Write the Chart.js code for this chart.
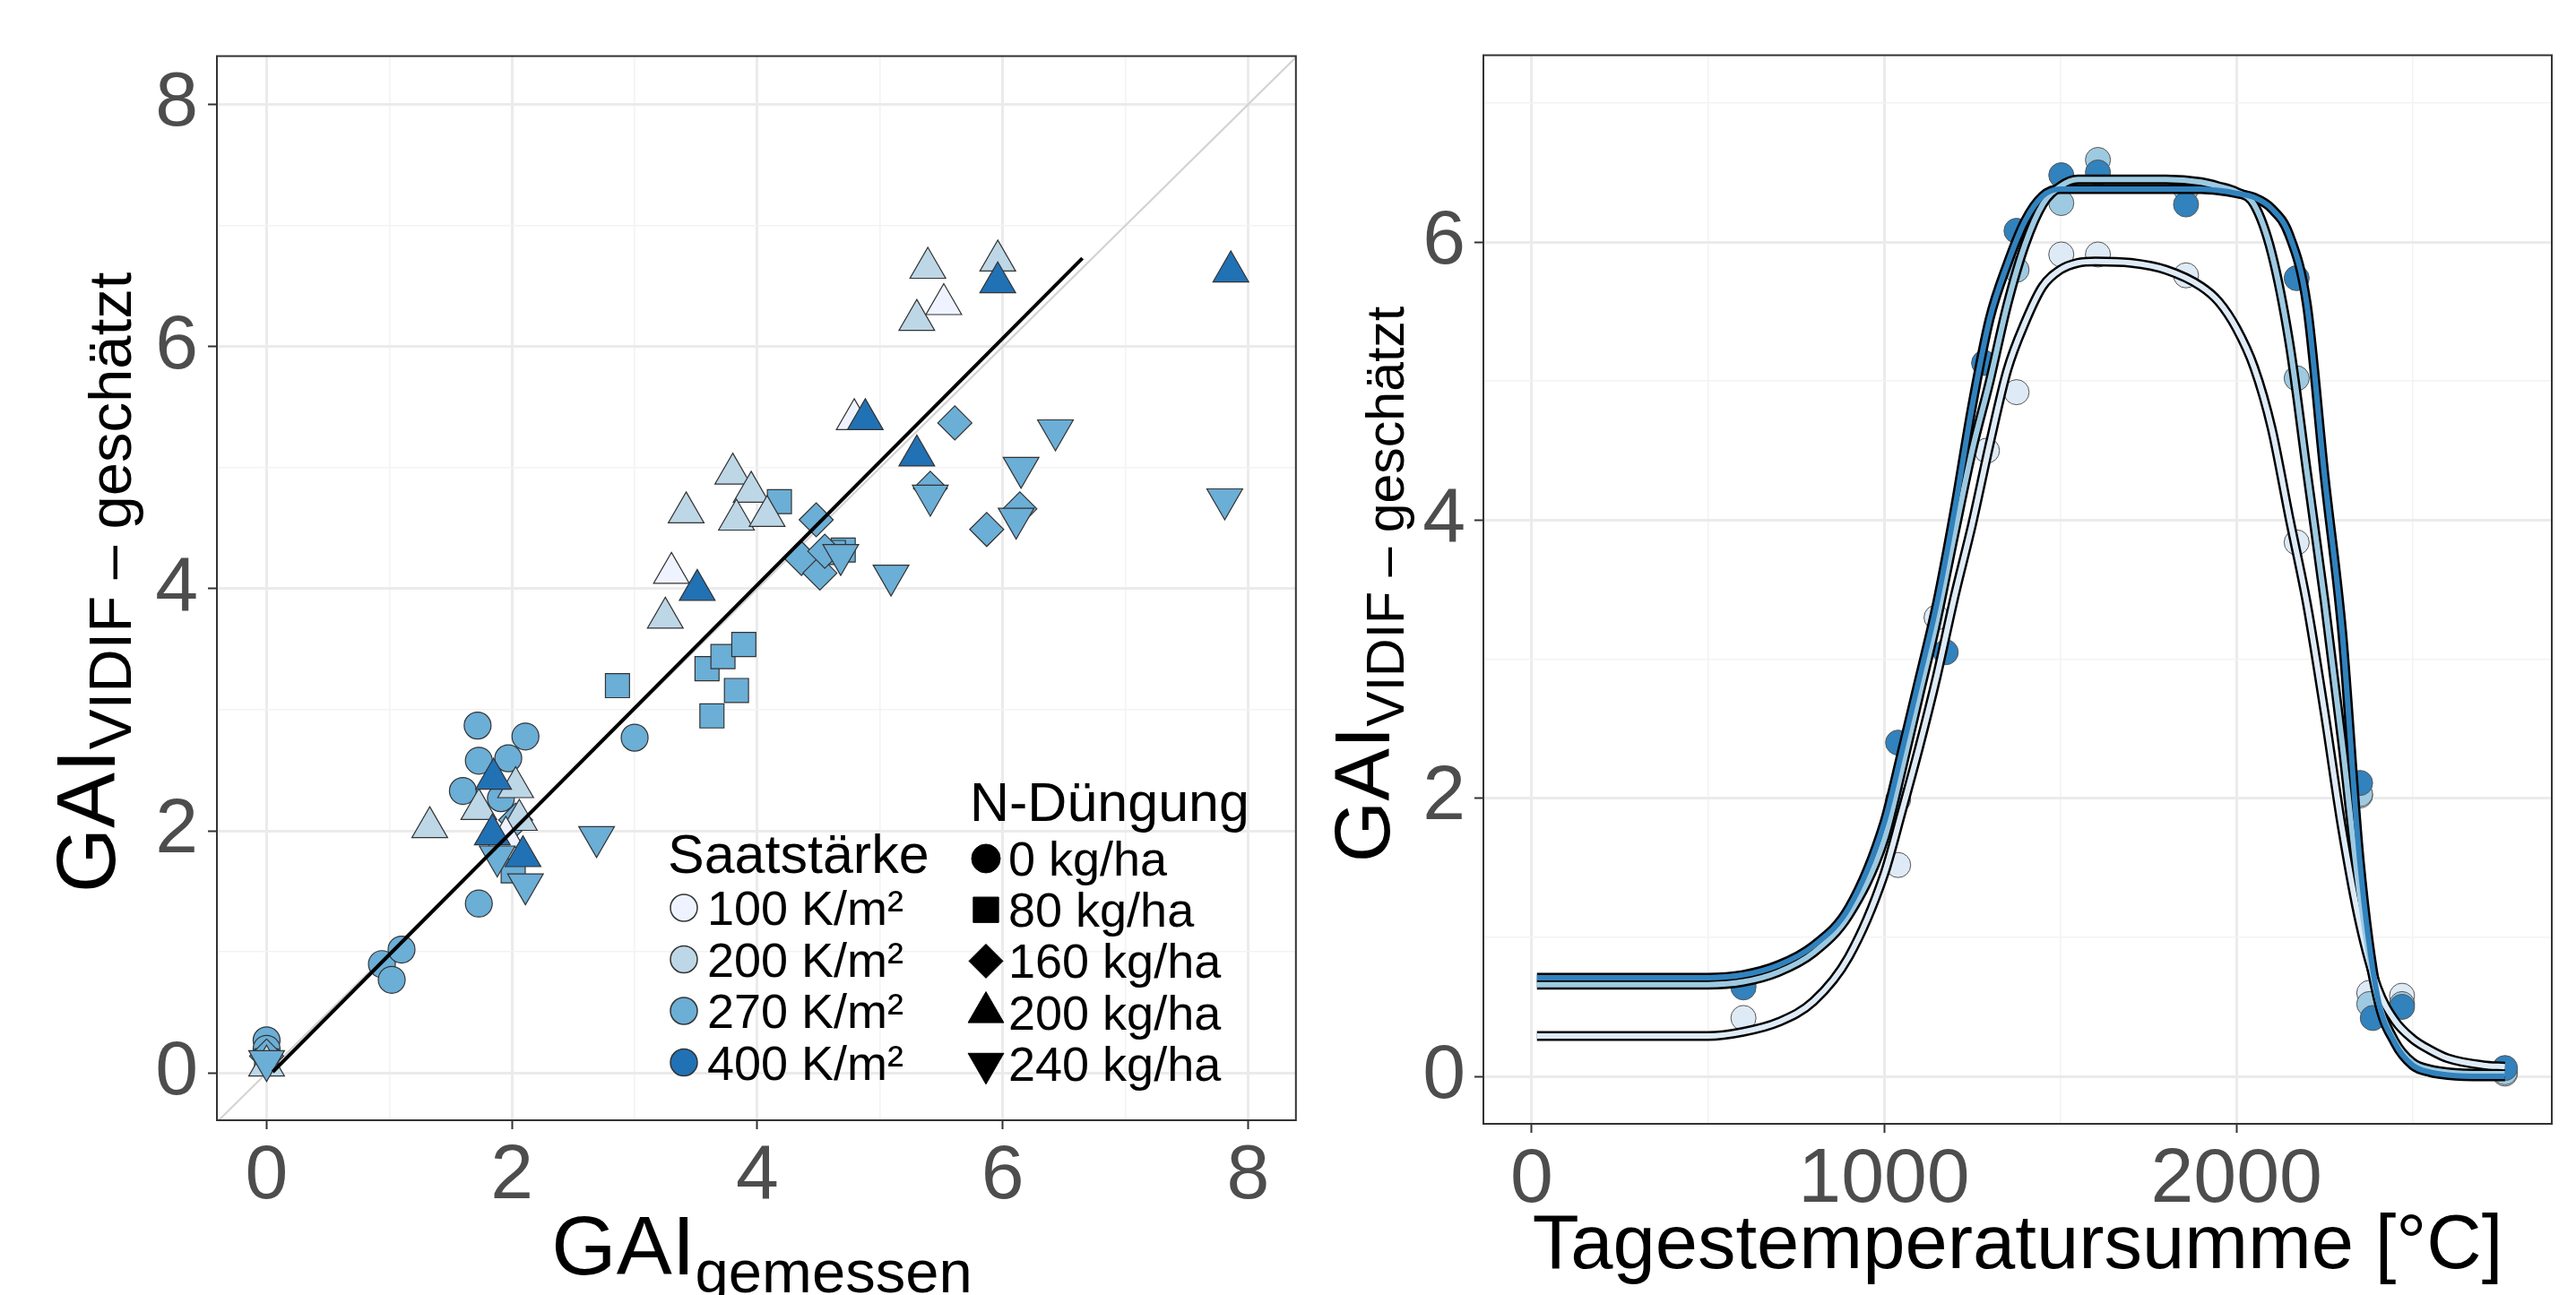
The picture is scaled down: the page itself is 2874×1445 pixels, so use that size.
<!DOCTYPE html>
<html>
<head>
<meta charset="utf-8">
<script src="https://cdn.jsdelivr.net/npm/chart.js@4.4.1/dist/chart.umd.min.js"></script>
<style>
  html, body { margin: 0; padding: 0; background: #fff; }
  #page { position: relative; width: 2874px; height: 1445px; overflow: hidden; background: #fff; }
  canvas { position: absolute; top: 0; }
  #left { left: 0; }
  #right { left: 1470px; }
  #labels { position: absolute; left: 0; top: 0; pointer-events: none; font-family: 'Liberation Sans', Arial, sans-serif; }
</style>
</head>
<body>
<div id="page">
  <canvas id="left" width="1470" height="1445"></canvas>
  <canvas id="right" width="1404" height="1445"></canvas>
  <svg id="labels" width="2874" height="1445">
    <text x="850" y="1422" text-anchor="middle" font-size="93">GAI<tspan font-size="67" dy="20">gemessen</tspan></text>
    <text transform="translate(128,650) rotate(-90)" text-anchor="middle" font-size="93">GAI<tspan font-size="67" dy="18">VIDIF – geschätzt</tspan></text>
    <text transform="translate(1550,652) rotate(-90)" text-anchor="middle" font-size="88">GAI<tspan font-size="59" dy="16">VIDIF – geschätzt</tspan></text>
    <text x="2251" y="1415" text-anchor="middle" font-size="85">Tagestemperatursumme [°C]</text>
  </svg>
</div>
<script>
// left panel: GAI measured vs. estimated, by Saatstärke (colour) and N-Düngung (shape)
const circ270 = [[1.72,2.87],[1.73,2.58],[1.97,2.60],[2.11,2.78],[1.60,2.33],[1.91,2.27],[1.73,1.40],[3.00,2.77],[0.94,0.90],[1.10,1.02],[1.02,0.77],[0,0.27],[0,0.20]]
const sq270 = [[2.86,3.20],[3.59,3.34],[3.72,3.44],[3.89,3.54],[3.83,3.16],[3.63,2.95],[4.18,4.72],[4.70,4.32],[4.62,4.30],[2.01,1.67],[0,0.10]]
const dia270 = [[5.61,5.37],[5.41,4.83],[5.87,4.49],[6.14,4.66],[4.48,4.57],[4.36,4.25],[4.51,4.13],[4.55,4.31],[2.03,2.09],[0,0.14]]
const tri100 = [[5.52,6.35],[3.30,4.13],[4.79,5.40],[1.95,1.95]]
const tri200 = [[5.39,6.65],[5.96,6.71],[5.30,6.22],[3.80,4.95],[3.95,4.80],[3.42,4.63],[3.83,4.57],[4.08,4.60],[3.25,3.76],[1.33,2.03],[1.73,2.18],[2.03,2.36],[2.06,2.09],[0,0.06]]
const tri400 = [[5.96,6.53],[7.86,6.62],[4.88,5.40],[5.30,5.10],[3.51,3.99],[1.85,2.43],[1.84,1.97],[2.09,1.79]]
const down270 = [[6.43,5.31],[6.15,5.00],[7.81,4.74],[5.09,4.11],[5.41,4.77],[6.11,4.58],[2.69,1.95],[2.11,1.56],[1.88,1.79],[4.68,4.28],[0,0.10]]
const fitX = [0.05, 6.65]
const fitY = [0.01, 6.73]
const diagXY = [-0.5, 8.5]
const leftTicks = [0, 1, 2, 3, 4, 5, 6, 7, 8]

const saatLabels = ['100 K/m²', '200 K/m²', '270 K/m²', '400 K/m²']
const saatColors = ['#eff3ff', '#bdd7e7', '#6baed6', '#2171b5']
const nLabels = ['0 kg/ha', '80 kg/ha', '160 kg/ha', '200 kg/ha', '240 kg/ha']

// right panel: GAI over Tagestemperatursumme, three fitted curves
const ptLight = [[601,0.42],[1040,1.52],[1149,3.30],[1292,4.50],[1376,4.92],[1503,5.91],[1607,5.91],[1857,5.76],[2171,3.84],[2351,2.02],[2377,0.60],[2470,0.58],[2762,0.02]]
const ptMid = [[601,0.66],[1040,1.99],[1376,5.80],[1503,6.28],[1607,6.59],[1857,6.38],[2171,5.02],[2351,2.03],[2377,0.52],[2470,0.52],[2762,0.03]]
const ptDark = [[601,0.64],[1040,2.40],[1175,3.05],[1284,5.13],[1376,6.08],[1503,6.48],[1607,6.50],[1857,6.27],[2171,5.74],[2351,2.11],[2387,0.42],[2470,0.50],[2762,0.06]]

const tsumX = [15, 300, 500, 600, 700, 800, 900, 1000, 1050, 1100, 1150, 1200, 1250, 1300, 1350, 1400, 1450, 1500, 1550, 1600, 1700, 1800, 1900, 1950, 2000, 2050, 2100, 2150, 2200, 2250, 2300, 2350, 2400, 2450, 2500, 2550, 2600, 2700, 2762]
const curveLight = [0.29, 0.29, 0.29, 0.32, 0.39, 0.54, 0.86, 1.45, 1.90, 2.37, 2.88, 3.45, 3.97, 4.55, 5.08, 5.42, 5.68, 5.80, 5.85, 5.86, 5.85, 5.80, 5.68, 5.57, 5.38, 5.10, 4.66, 4.02, 3.40, 2.62, 1.78, 1.10, 0.64, 0.40, 0.27, 0.19, 0.13, 0.08, 0.07]
const curveMid = [0.66, 0.66, 0.66, 0.68, 0.75, 0.89, 1.16, 1.70, 2.20, 2.74, 3.28, 3.90, 4.50, 5.00, 5.55, 5.98, 6.27, 6.40, 6.45, 6.45, 6.45, 6.45, 6.43, 6.40, 6.36, 6.27, 5.92, 5.28, 4.35, 3.42, 2.40, 1.30, 0.57, 0.25, 0.10, 0.05, 0.03, 0.02, 0.02]
const curveDark = [0.71, 0.71, 0.71, 0.73, 0.80, 0.94, 1.21, 1.82, 2.33, 2.86, 3.40, 4.07, 4.82, 5.45, 5.84, 6.15, 6.33, 6.38, 6.38, 6.38, 6.38, 6.38, 6.38, 6.37, 6.35, 6.32, 6.24, 6.05, 5.55, 4.32, 3.20, 1.55, 0.58, 0.24, 0.08, 0.03, 0.01, 0.0, 0.0]
const rightColors = ['#deebf7', '#9ecae1', '#3182bd']
const rightXTicks = [0, 500, 1000, 1500, 2000, 2500]
const rightYTicks = [0, 1, 2, 3, 4, 5, 6, 7]

const FONT = "'Liberation Sans', Arial, sans-serif"
const xy = arr => arr.map(([x, y]) => ({x, y}))
const zip = (xs, ys) => xs.map((x, i) => ({x, y: ys[i]}))

const panelBorder = {
    id: 'panelBorder',
    afterDraw(chart){
        const {ctx, chartArea: a} = chart
        ctx.save()
        ctx.strokeStyle = '#333333'
        ctx.lineWidth = 2
        ctx.strokeRect(a.left, a.top, a.right - a.left, a.bottom - a.top)
        ctx.restore()
    }
}

function drawKey(ctx, style, rotation, radius, x, y, fill, stroke, bw){
    ctx.save()
    ctx.fillStyle = fill
    ctx.strokeStyle = stroke
    ctx.lineWidth = bw
    Chart.helpers.drawPoint(ctx, {pointStyle: style, rotation: rotation, radius: radius, borderWidth: bw}, x, y)
    ctx.restore()
}

const nKeys = [
    {style: 'circle', rot: 0, r: 16},
    {style: 'rect', rot: 0, r: 20},
    {style: 'rectRot', rot: 0, r: 19},
    {style: 'triangle', rot: 0, r: 23},
    {style: 'triangle', rot: 180, r: 23}
]

const legendKeys = {
    id: 'legendKeys',
    afterDraw(chart){
        const ctx = chart.ctx
        saatColors.forEach((c, i) => drawKey(ctx, 'circle', 0, 15, 763, 1013 + i * 57.5, c, '#333333', 1.5))
        nKeys.forEach((k, i) => drawKey(ctx, k.style, k.rot, k.r, 1100, 958 + i * 57.2, '#000', '#000', 1))
    }
}

function gridOpts(isMajor){
    return {
        color: c => isMajor(c.tick) ? '#ebebeb' : '#f3f3f3',
        lineWidth: c => isMajor(c.tick) ? 3 : 1.6,
        tickColor: c => isMajor(c.tick) ? '#333333' : 'rgba(0,0,0,0)',
        tickWidth: 2,
        tickLength: 10
    }
}

function tickOpts(isMajor, padding){
    return {
        autoSkip: false,
        maxRotation: 0,
        color: '#4d4d4d',
        padding: padding,
        font: {family: FONT, size: 86},
        callback: v => isMajor({value: v}) ? String(v) : ''
    }
}

const setTicks = vals => scale => { scale.ticks = vals.map(v => ({value: v})) }
const even2 = t => !!t && Math.abs(t.value % 2) < 1e-9
const even1000 = t => !!t && Math.abs(t.value % 1000) < 1e-9

function pts(data, style, rot, r, color, order){
    return {
        data: xy(data),
        pointStyle: style,
        rotation: rot,
        pointRadius: r,
        pointHoverRadius: r,
        backgroundColor: color,
        borderColor: '#333333',
        borderWidth: 1.2,
        showLine: false,
        order: order
    }
}

new Chart(document.getElementById('left'), {
    type: 'scatter',
    data: {
        datasets: [
            {data: zip(diagXY, diagXY), showLine: true, borderColor: '#d2d2d2', borderWidth: 2, pointRadius: 0, order: 30},
            pts(circ270, 'circle', 0, 15, saatColors[2], 20),
            pts(sq270, 'rect', 0, 19, saatColors[2], 19),
            pts(dia270, 'rectRot', 0, 19, saatColors[2], 18),
            pts(tri200, 'triangle', 0, 23, saatColors[1], 17),
            pts(tri100, 'triangle', 0, 23, saatColors[0], 16),
            pts(tri400, 'triangle', 0, 23, saatColors[3], 15),
            pts(down270, 'triangle', 180, 23, saatColors[2], 14),
            {data: zip(fitX, fitY), showLine: true, borderColor: '#000000', borderWidth: 4, pointRadius: 0, order: 1}
        ]
    },
    options: {
        responsive: false,
        animation: false,
        events: [],
        layout: {padding: {top: 51, right: 13, left: 0, bottom: 0}},
        plugins: {legend: {display: false}, tooltip: {enabled: false}},
        scales: {
            x: {
                type: 'linear', min: -0.405, max: 8.39,
                afterFit: s => { s.height = 195 },
                afterBuildTicks: setTicks(leftTicks),
                grid: gridOpts(even2),
                border: {display: false},
                ticks: tickOpts(even2, 2)
            },
            y: {
                type: 'linear', min: -0.39, max: 8.40,
                afterFit: s => { s.width = 242 },
                afterBuildTicks: setTicks(leftTicks),
                grid: gridOpts(even2),
                border: {display: false},
                ticks: tickOpts(even2, 11)
            }
        }
    },
    plugins: [panelBorder, legendKeys]
})

function curve(values, color, width, order){
    return {
        data: zip(tsumX, values),
        showLine: true,
        borderColor: color,
        borderWidth: width,
        pointRadius: 0,
        cubicInterpolationMode: 'monotone',
        order: order
    }
}

function rpts(data, color, order){
    return {
        data: xy(data),
        pointStyle: 'circle',
        pointRadius: 14,
        pointHoverRadius: 14,
        backgroundColor: color,
        borderColor: '#555555',
        borderWidth: 1,
        showLine: false,
        order: order
    }
}

new Chart(document.getElementById('right'), {
    type: 'scatter',
    data: {
        datasets: [
            rpts(ptLight, rightColors[0], 22),
            rpts(ptMid, rightColors[1], 21),
            rpts(ptDark, rightColors[2], 20),
            curve(curveLight, '#000000', 11, 12),
            curve(curveMid, '#000000', 11, 11),
            curve(curveDark, '#000000', 11, 10),
            curve(curveLight, rightColors[0], 6, 3),
            curve(curveMid, rightColors[1], 6, 2),
            curve(curveDark, rightColors[2], 6, 1)
        ]
    },
    options: {
        responsive: false,
        animation: false,
        events: [],
        layout: {padding: {top: 51, right: 27, left: 0, bottom: 0}},
        plugins: {legend: {display: false}, tooltip: {enabled: false}},
        scales: {
            x: {
                type: 'linear', min: -137, max: 2895,
                afterFit: s => { s.height = 191 },
                afterBuildTicks: setTicks(rightXTicks),
                grid: gridOpts(even1000),
                border: {display: false},
                ticks: tickOpts(even1000, 2)
            },
            y: {
                type: 'linear', min: -0.341, max: 7.343,
                afterFit: s => { s.width = 185 },
                afterBuildTicks: setTicks(rightYTicks),
                grid: gridOpts(even2),
                border: {display: false},
                ticks: tickOpts(even2, 10)
            }
        }
    },
    plugins: [panelBorder]
})

// legend text, written as svg text so it stays real text
const svg = document.getElementById('labels')
function addText(str, x, y, size){
    const t = document.createElementNS('http://www.w3.org/2000/svg', 'text')
    t.setAttribute('x', x)
    t.setAttribute('y', y)
    t.setAttribute('font-size', size)
    t.textContent = str
    svg.appendChild(t)
}
addText('N-Düngung', 1082, 916, 61)
addText('Saatstärke', 745, 974, 61)
saatLabels.forEach((s, i) => addText(s, 789, 1032 + i * 57.5, 54))
nLabels.forEach((s, i) => addText(s, 1125, 977 + i * 57.2, 54))
</script>
</body>
</html>
